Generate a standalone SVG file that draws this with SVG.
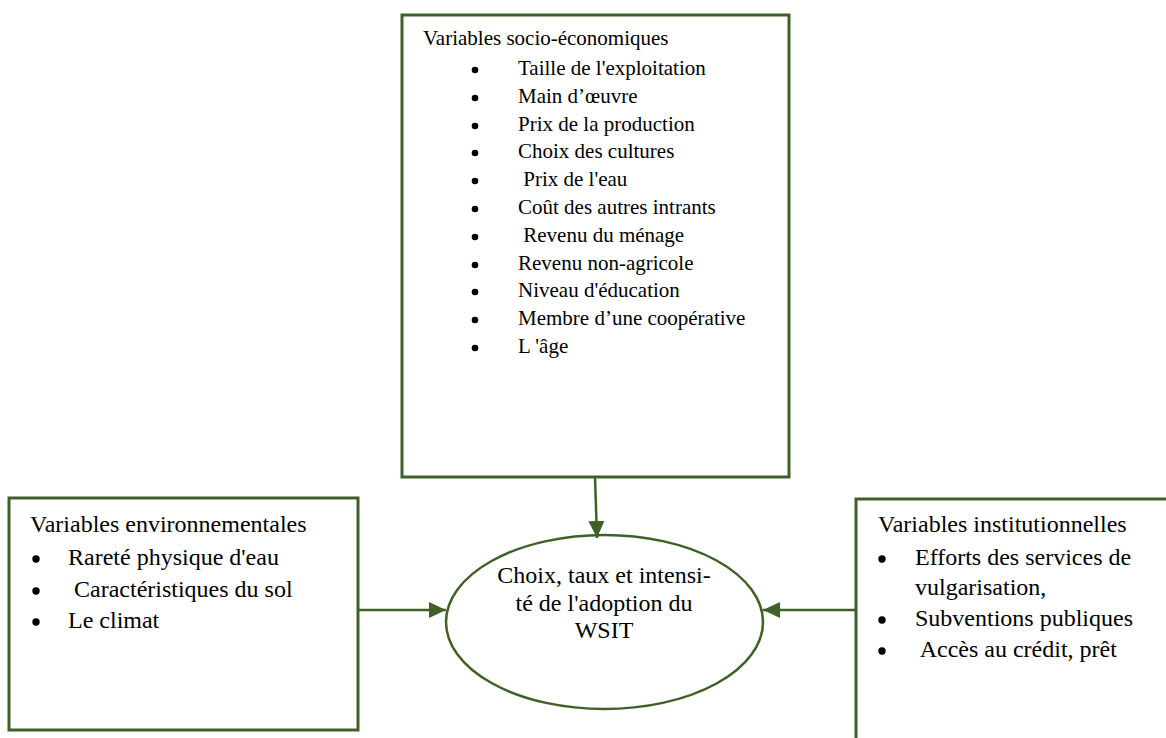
<svg xmlns="http://www.w3.org/2000/svg" width="1166" height="738" viewBox="0 0 1166 738">
<defs>
<style>
.box{fill:#ffffff;stroke:#3f6128;stroke-width:3}
.ell{fill:#ffffff;stroke:#3f6128;stroke-width:2.5}
.con{stroke:#3f6128;stroke-width:2.5;fill:none}
.t21{font-family:"Liberation Serif","Times New Roman",serif;font-size:21px;fill:#000}
.t24{font-family:"Liberation Serif","Times New Roman",serif;font-size:24px;fill:#000}
.c{text-anchor:middle}
.dot{fill:#000}
</style>
<marker id="ah" markerWidth="17" markerHeight="16" refX="17" refY="8" orient="auto" markerUnits="userSpaceOnUse">
<path d="M0,0 L17,8 L0,16 Z" fill="#3f6128"/>
</marker>
</defs>
<rect width="1166" height="738" fill="#ffffff"/>

<g id="node-socio">
<rect class="box" x="402" y="15" width="387" height="462"/>
<text class="t21" x="423" y="45">Variables socio-économiques</text>
<g class="dot">
<circle cx="475" cy="70" r="3.3"/><circle cx="475" cy="98" r="3.3"/><circle cx="475" cy="126" r="3.3"/><circle cx="475" cy="153" r="3.3"/><circle cx="475" cy="181" r="3.3"/><circle cx="475" cy="209" r="3.3"/><circle cx="475" cy="237" r="3.3"/><circle cx="475" cy="265" r="3.3"/><circle cx="475" cy="292" r="3.3"/><circle cx="475" cy="320" r="3.3"/><circle cx="475" cy="348" r="3.3"/>
</g>
<text class="t21" x="518" y="75">Taille de l'exploitation</text>
<text class="t21" x="518" y="103">Main d’œuvre</text>
<text class="t21" x="518" y="131">Prix de la production</text>
<text class="t21" x="518" y="158">Choix des cultures</text>
<text class="t21" x="518" y="186" xml:space="preserve"> Prix de l'eau</text>
<text class="t21" x="518" y="214">Coût des autres intrants</text>
<text class="t21" x="518" y="242" xml:space="preserve"> Revenu du ménage</text>
<text class="t21" x="518" y="270">Revenu non-agricole</text>
<text class="t21" x="518" y="297">Niveau d'éducation</text>
<text class="t21" x="518" y="325">Membre d’une coopérative</text>
<text class="t21" x="518" y="353">L 'âge</text>
</g>

<g id="node-env">
<rect class="box" x="9" y="498" width="349" height="232"/>
<text class="t24" x="30" y="532">Variables environnementales</text>
<g class="dot">
<circle cx="36" cy="559" r="3.7"/><circle cx="36" cy="591" r="3.7"/><circle cx="36" cy="622" r="3.7"/>
</g>
<text class="t24" x="68" y="565">Rareté physique d'eau</text>
<text class="t24" x="68" y="597" xml:space="preserve"> Caractéristiques du sol</text>
<text class="t24" x="68" y="628">Le climat</text>
</g>

<g id="node-inst">
<rect class="box" x="856" y="499" width="400" height="300"/>
<text class="t24" x="878" y="532">Variables institutionnelles</text>
<g class="dot">
<circle cx="882" cy="559" r="3.7"/><circle cx="882" cy="620" r="3.7"/><circle cx="882" cy="651" r="3.7"/>
</g>
<text class="t24" x="915" y="565">Efforts des services de</text>
<text class="t24" x="915" y="595">vulgarisation,</text>
<text class="t24" x="915" y="626">Subventions publiques</text>
<text class="t24" x="915" y="657" xml:space="preserve"> Accès au crédit, prêt</text>
</g>

<g id="node-adoption">
<ellipse class="ell" cx="604.5" cy="622" rx="158.5" ry="87"/>
<text class="t24 c" x="604" y="583">Choix, taux et intensi-</text>
<text class="t24 c" x="604" y="611">té de l'adoption du</text>
<text class="t24 c" x="604" y="638">WSIT</text>
</g>

<g id="connectors">
<line class="con" x1="595" y1="477" x2="597" y2="538" marker-end="url(#ah)"/>
<line class="con" x1="358" y1="610" x2="446" y2="610" marker-end="url(#ah)"/>
<line class="con" x1="856" y1="610" x2="763" y2="610" marker-end="url(#ah)"/>
</g>
</svg>
